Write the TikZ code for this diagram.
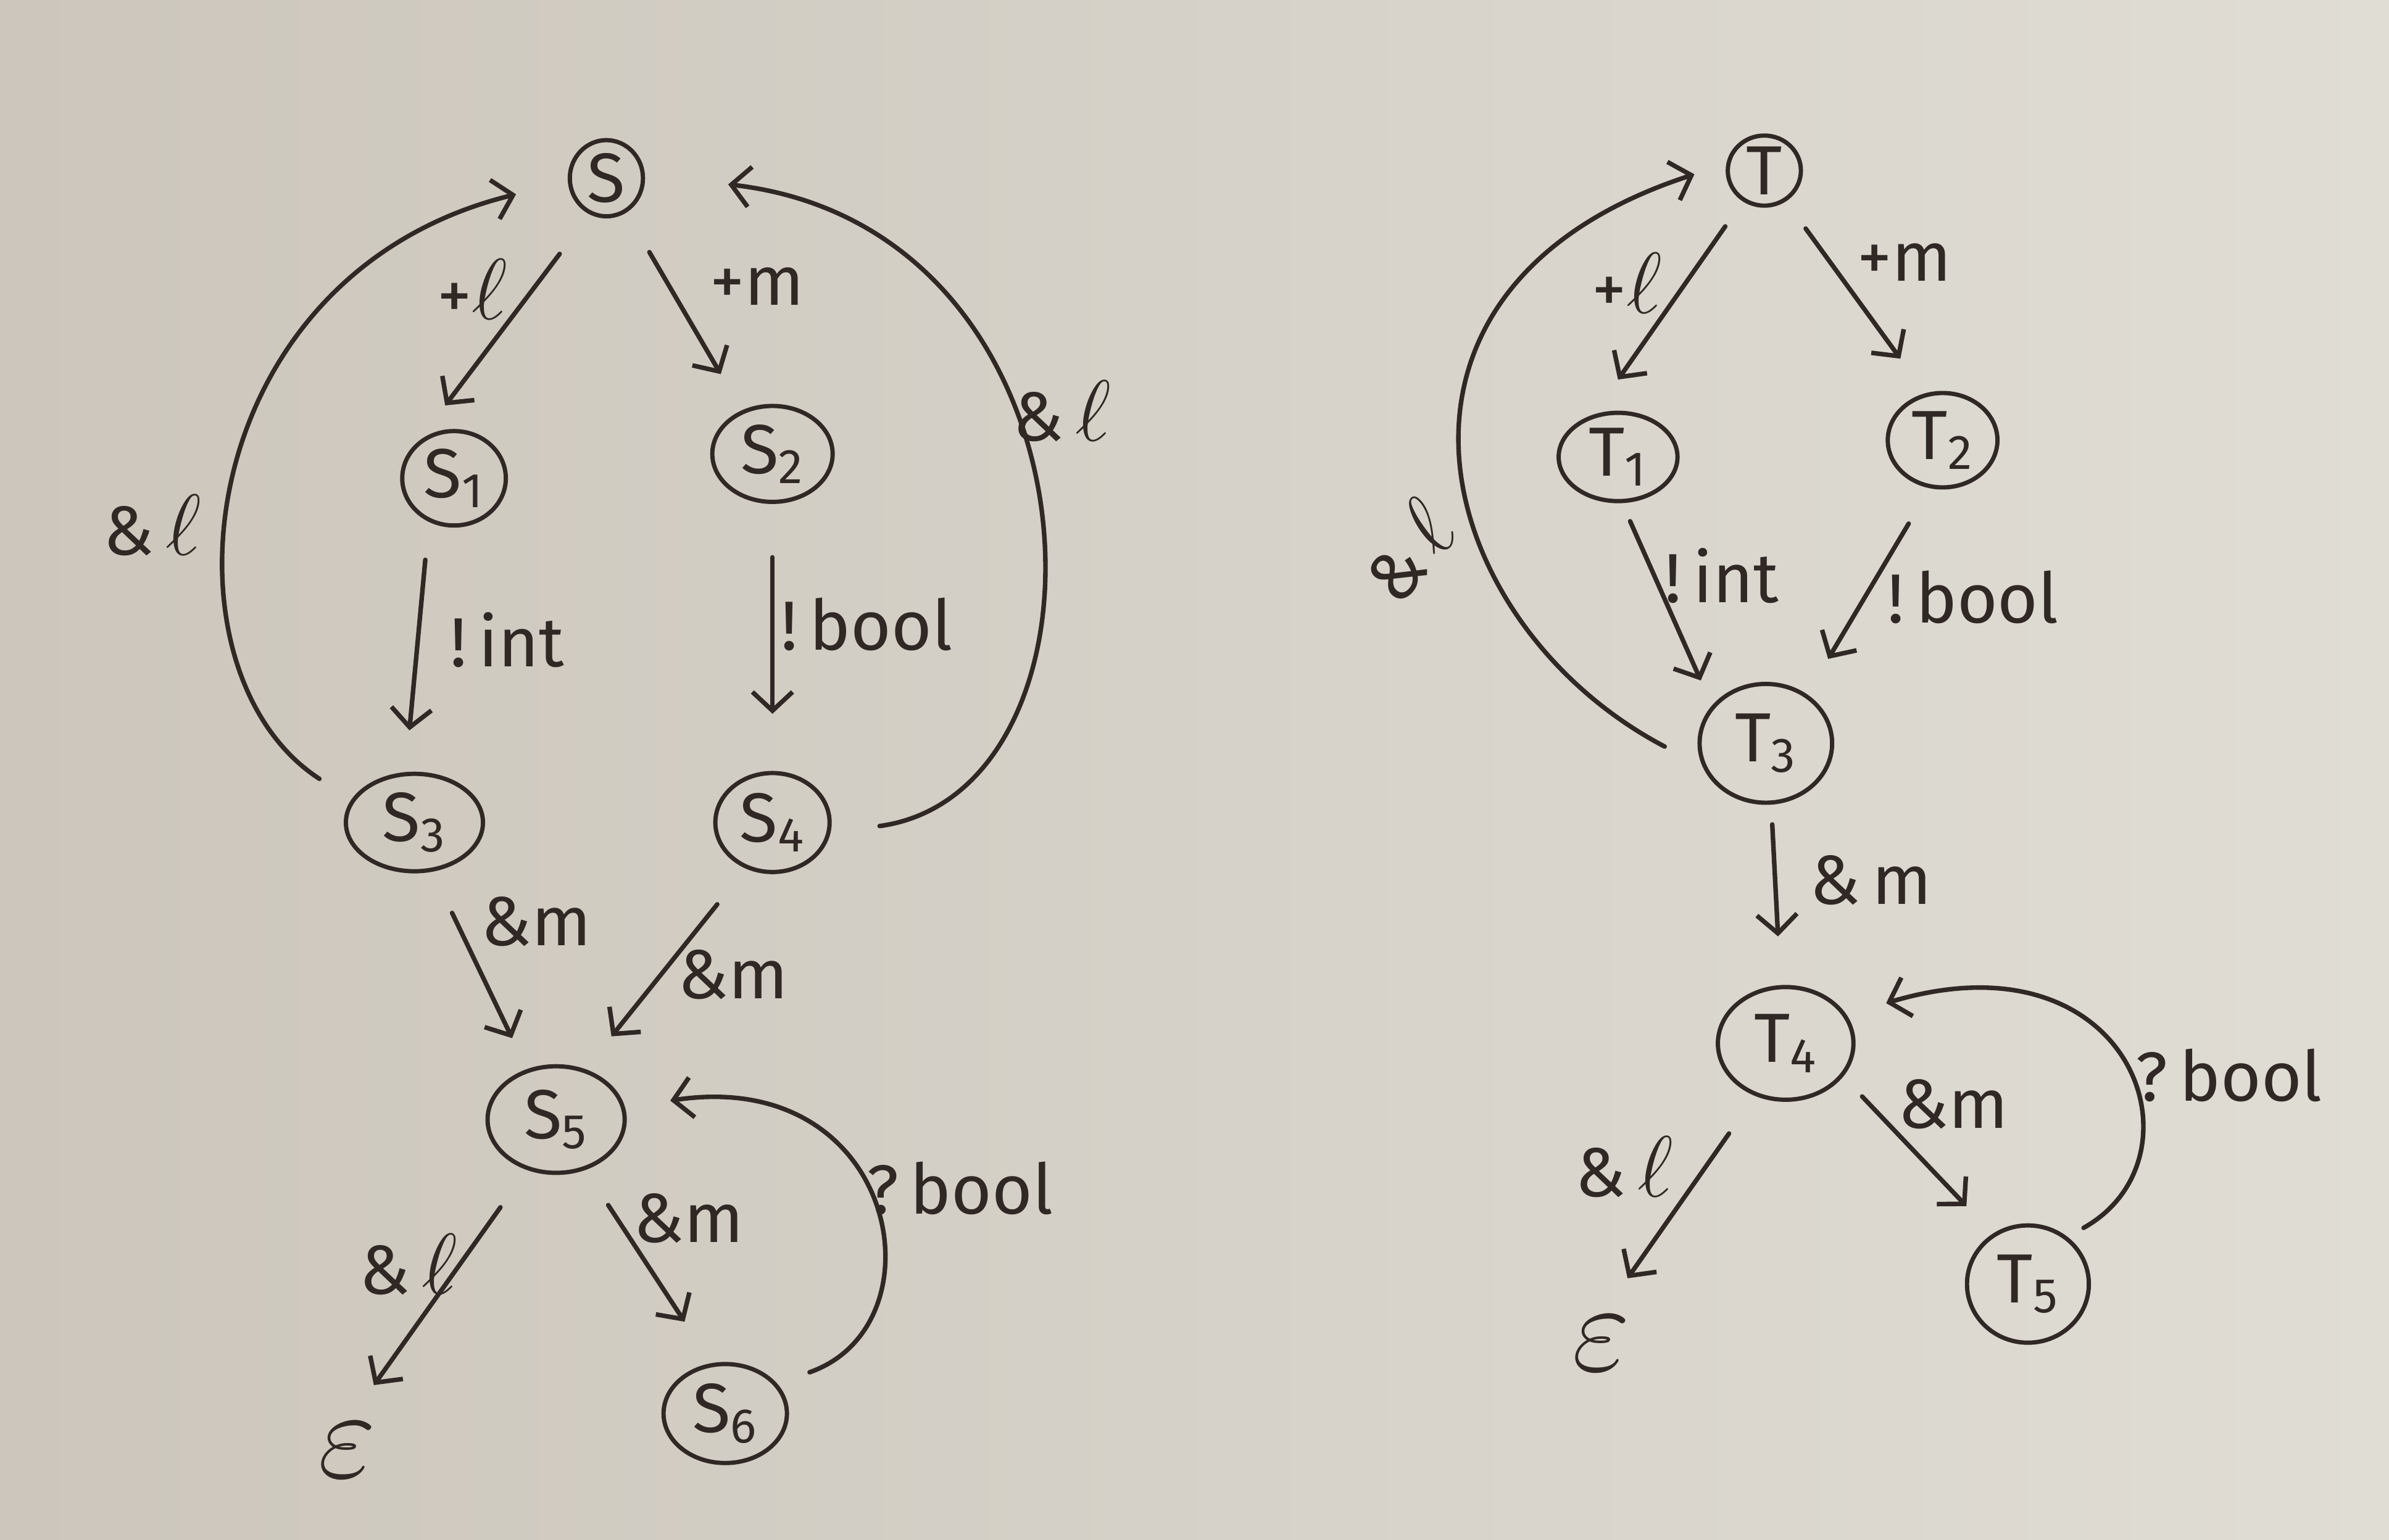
\documentclass[tikz,border=0pt]{standalone}
\usepackage{fontspec}
\setmainfont{Fira Sans}
\usetikzlibrary{arrows.meta,shapes.geometric}
\definecolor{ink}{RGB}{48,40,36}
\definecolor{paperL}{RGB}{204,198,188}
\definecolor{paperR}{RGB}{224,221,213}
\newcommand\hfs{\fontsize{26}{30}\selectfont}
\newcommand\ellx{\scalebox{1.3}{$\ell$}}
\newcommand\epsx{\scalebox{1.9}{$\varepsilon$}}
\begin{document}
\begin{tikzpicture}[x=0.02cm,y=-0.02cm,
  st/.style={draw=ink, line width=1.6pt, ellipse, inner sep=0pt, text=ink, font=\hfs},
  arr/.style={draw=ink, line width=1.7pt, line cap=round, -{Straight Barb[length=7pt,width=15pt,line width=1.7pt]}},
  lab/.style={text=ink, font=\hfs, inner sep=0pt}]
\fill[left color=paperL, right color=paperR] (0,0) rectangle (1568,1011);
\useasboundingbox (0,0) rectangle (1568,1011);

% ---------- left automaton ----------
\node[st, minimum width=0.96cm, minimum height=1cm] (S) at (398,117) {S};
\node[st, minimum width=1.36cm, minimum height=1.24cm] (S1) at (298,314) {S\textsubscript{1}};
\node[st, minimum width=1.58cm, minimum height=1.26cm] (S2) at (507,298) {S\textsubscript{2}};
\node[st, minimum width=1.8cm, minimum height=1.28cm] (S3) at (272,540) {S\textsubscript{3}};
\node[st, minimum width=1.5cm, minimum height=1.3cm] (S4) at (507,540) {S\textsubscript{4}};
\node[st, minimum width=1.8cm, minimum height=1.4cm] (S5) at (365,735) {S\textsubscript{5}};
\node[st, minimum width=1.62cm, minimum height=1.3cm] (S6) at (476,928) {S\textsubscript{6}};
\node[lab] (e1) at (228,952) {\epsx};

\draw[arr, shorten <=0.65cm, shorten >=0.6cm] (S.245) -- (S1.135);
\draw[arr, shorten <=0.6cm, shorten >=0.55cm] (S.300) -- (S2.125);
\draw[arr, shorten <=0.5cm, shorten >=0.55cm] (S1.240) -- (S3.100);
\draw[arr, shorten <=0.7cm, shorten >=0.75cm] (S2.270) -- (S4.90);
\draw[arr, shorten <=0.5cm, shorten >=0.7cm] (S3.160) .. controls (100,440) and (125,180) .. (S.185);
\draw[arr, shorten <=0.65cm, shorten >=1.1cm] (S4.350) .. controls (740,520) and (730,150) .. (S.5);
\draw[arr, shorten <=0.6cm, shorten >=0.45cm] (S3.290) -- (S5.120);
\draw[arr, shorten <=0.6cm, shorten >=0.55cm] (S4.240) -- (S5.60);
\draw[arr, shorten <=0.6cm, shorten >=0.6cm] (S5.240) -- (e1.north);
\draw[arr, shorten <=0.55cm, shorten >=0.65cm] (S5.300) -- (S6.105);
\draw[arr, shorten <=0.45cm, shorten >=0.6cm] (S6.30) .. controls (620,870) and (590,700) .. (S5.10);

\node[lab] at (310,190) {+\ellx};
\node[lab] at (497,188) {+m};
\node[lab] at (333,420) {!\,int};
\node[lab] at (569,410) {!\,bool};
\node[lab] at (100,345) {\&\,\ellx};
\node[lab] at (697,270) {\&\,\ellx};
\node[lab] at (352,605) {\&m};
\node[lab] at (481,640) {\&m};
\node[lab] at (268,830) {\&\,\ellx};
\node[lab] at (452,800) {\&m};
\node[lab] at (630,780) {?\,bool};

% ---------- right automaton ----------
\node[st, minimum width=0.96cm, minimum height=0.92cm] (T) at (1158,112) {T};
\node[st, minimum width=1.56cm, minimum height=1.16cm] (T1) at (1062,300) {T\textsubscript{1}};
\node[st, minimum width=1.44cm, minimum height=1.24cm] (T2) at (1275,289) {T\textsubscript{2}};
\node[st, minimum width=1.74cm, minimum height=1.56cm] (T3) at (1159,488) {T\textsubscript{3}};
\node[st, minimum width=1.78cm, minimum height=1.48cm] (T4) at (1172,685) {T\textsubscript{4}};
\node[st, minimum width=1.6cm, minimum height=1.54cm] (T5) at (1331,843) {T\textsubscript{5}};
\node[lab] (e2) at (1051,882) {\epsx};

\draw[arr, shorten <=0.4cm, shorten >=0.56cm] (T.235) -- (T1.120);
\draw[arr, shorten <=0.44cm, shorten >=0.56cm] (T.305) -- (T2.110);
\draw[arr, shorten <=0.26cm, shorten >=0.36cm] (T1.275) -- (T3.145);
\draw[arr, shorten <=0.54cm, shorten >=0.54cm] (T2.255) -- (T3.50);
\draw[arr, shorten <=0.56cm, shorten >=0.44cm] (T3.200) .. controls (940,410) and (880,190) .. (T.170);
\draw[arr, shorten <=0.26cm, shorten >=0.64cm] (T3.275) -- (T4.95);
\draw[arr, shorten <=0.6cm, shorten >=0.6cm] (T4.240) -- (e2.north);
\draw[arr, shorten <=0.36cm, shorten >=0.5cm] (T4.330) -- (T5.125);
\draw[arr, shorten <=0.24cm, shorten >=0.54cm] (T5.50) .. controls (1450,760) and (1400,610) .. (T4.25);

\node[lab] at (1068,186) {+\ellx};
\node[lab] at (1250,172) {+m};
\node[lab] at (1130,378) {!\,int};
\node[lab] at (1295,392) {!\,bool};
\node[lab, rotate=50] at (924,362) {\&\,\ellx};
\node[lab] at (1228,578) {\&\,m};
\node[lab] at (1066,766) {\&\,\ellx};
\node[lab] at (1282,725) {\&m};
\node[lab] at (1463,706) {?\,bool};
\end{tikzpicture}
\end{document}
